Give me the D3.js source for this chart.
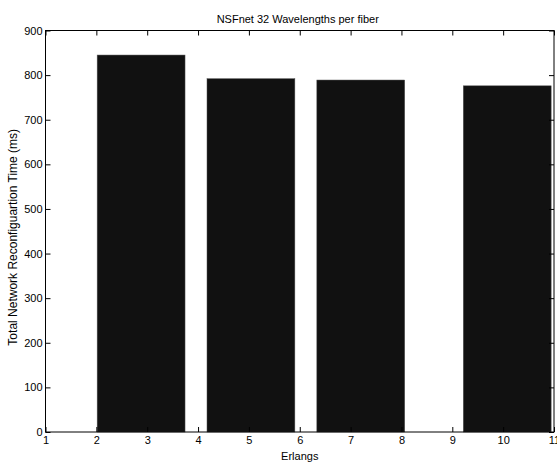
<!DOCTYPE html>
<html>
<head>
<meta charset="utf-8">
<script src="https://cdn.jsdelivr.net/npm/d3@7"></script>
<style>
  body { margin: 0; background: #fff; }
  svg { display: block; font-family: "Liberation Sans", Arial, sans-serif; }
</style>
</head>
<body>
<div id="chart"></div>
<script>
/* ---------- data ---------- */
const erlangs = [2.88, 5.04, 7.2, 10.08];
const reconfigTime = [845, 792, 789, 776];
const xTicks = [1, 2, 3, 4, 5, 6, 7, 8, 9, 10, 11];
const yTicks = [0, 100, 200, 300, 400, 500, 600, 700, 800, 900];
const barWidth = 0.8 * 2.16; // matlab-style: 0.8 * spacing

const W = 557, H = 464;
const margin = { left: 45.5, right: 3, top: 30.5, bottom: 32 };

const svg = d3.select('#chart').append('svg')
    .attr('width', W)
    .attr('height', H);

const x = d3.scaleLinear().domain([1, 11]).range([margin.left, W - margin.right]);
const y = d3.scaleLinear().domain([0, 900]).range([H - margin.bottom, margin.top]);

// bars
svg.selectAll('.bar')
    .data(erlangs)
    .enter().append('rect')
    .attr('class', 'bar')
    .attr('x', d => x(d - barWidth / 2))
    .attr('width', d => x(d + barWidth / 2) - x(d - barWidth / 2))
    .attr('y', (d, i) => y(reconfigTime[i]))
    .attr('height', (d, i) => y(0) - y(reconfigTime[i]))
    .style('fill', '#111')
    .style('stroke', '#555')
    .style('stroke-width', 0.5);

// axes: ticks pointing inward
const tickLen = 5;
const axStyle = g => {
    g.selectAll('.domain').remove();
    g.selectAll('.tick line').style('stroke', '#000');
    g.selectAll('text').style('font-size', '11px').style('fill', '#000');
};

svg.append('g')
    .attr('transform', `translate(0,${y(0)})`)
    .call(d3.axisBottom(x).tickValues(xTicks).tickSizeInner(-tickLen).tickSizeOuter(0).tickPadding(4).tickFormat(d3.format('d')))
    .call(axStyle);

svg.append('g')
    .attr('transform', `translate(0,${y(900)})`)
    .call(d3.axisTop(x).tickValues(xTicks).tickSizeInner(-tickLen).tickSizeOuter(0).tickFormat(''))
    .call(axStyle);

svg.append('g')
    .attr('transform', `translate(${x(1)},0)`)
    .call(d3.axisLeft(y).tickValues(yTicks).tickSizeInner(-tickLen).tickSizeOuter(0).tickPadding(3).tickFormat(d3.format('d')))
    .call(axStyle);

svg.append('g')
    .attr('transform', `translate(${x(11)},0)`)
    .call(d3.axisRight(y).tickValues(yTicks).tickSizeInner(-tickLen).tickSizeOuter(0).tickFormat(''))
    .call(axStyle);

// box
svg.append('rect')
    .attr('x', x(1))
    .attr('y', y(900))
    .attr('width', x(11) - x(1))
    .attr('height', y(0) - y(900))
    .style('fill', 'none')
    .style('stroke', '#000')
    .style('stroke-width', 1);

// labels
svg.append('text')
    .attr('x', (x(1) + x(11)) / 2 - 2)
    .attr('y', 23)
    .attr('text-anchor', 'middle')
    .style('font-size', '11px')
    .text('NSFnet 32 Wavelengths per fiber');

svg.append('text')
    .attr('x', (x(1) + x(11)) / 2)
    .attr('y', 460)
    .attr('text-anchor', 'middle')
    .style('font-size', '11px')
    .text('Erlangs');

svg.append('text')
    .attr('transform', `translate(17,${(y(0) + y(900)) / 2 + 6}) rotate(-90)`)
    .attr('text-anchor', 'middle')
    .style('font-size', '12px')
    .text('Total Network Reconfiguartion Time (ms)');
</script>
</body>
</html>
